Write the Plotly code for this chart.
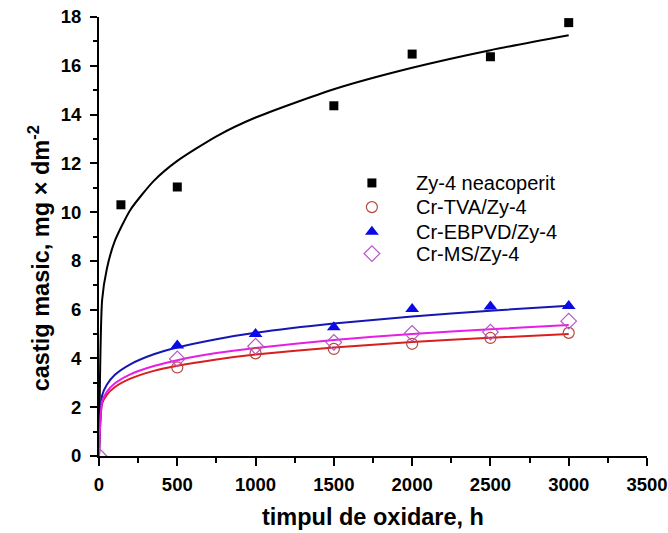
import plotly.graph_objects as go

# Measured points (time in h, mass gain in mg/dm^2)
t_zy4 = [140, 500, 1500, 2000, 2500, 3000]
m_zy4 = [10.3, 11.03, 14.36, 16.48, 16.37, 17.77]

t_coat = [500, 1000, 1500, 2000, 2500, 3000]
m_tva = [3.63, 4.21, 4.39, 4.60, 4.84, 5.05]
m_ebpvd = [4.53, 5.00, 5.28, 6.03, 6.13, 6.15]
t_ms = [0, 500, 1000, 1500, 2000, 2500, 3000]
m_ms = [0.0, 3.98, 4.50, 4.66, 5.03, 5.08, 5.53]

# Fit curves
fit_t = [0, 20, 50, 100, 200, 350, 500, 750, 1000, 1500, 2000, 2500, 3000]
fit_zy4 = [0.0, 6.4, 7.67, 8.80, 10.09, 11.28, 12.10, 13.11, 13.88, 15.04, 15.92, 16.64, 17.25]
fit_tva = [0.0, 2.15, 2.51, 2.82, 3.17, 3.49, 3.70, 3.96, 4.16, 4.45, 4.67, 4.85, 5.00]
fit_ebpvd = [0.0, 2.48, 2.92, 3.32, 3.76, 4.17, 4.45, 4.79, 5.05, 5.43, 5.72, 5.96, 6.16]
fit_ms = [0.0, 2.24, 2.63, 2.97, 3.35, 3.69, 3.93, 4.22, 4.43, 4.76, 5.00, 5.20, 5.37]

names = ["Zy-4 neacoperit", "Cr-TVA/Zy-4", "Cr-EBPVD/Zy-4", "Cr-MS/Zy-4"]
x_title = "timpul de oxidare, h"
y_title = "castig masic, mg × dm<sup>-2</sup>"

FONT = "Liberation Sans, Arial"

fig = go.Figure()

line_cfg = [
    (fit_zy4, "#000000"),
    (fit_tva, "#d81e1e"),
    (fit_ebpvd, "#1616b4"),
    (fit_ms, "#e61ee6"),
]
for ys, col in line_cfg:
    fig.add_trace(go.Scatter(x=fit_t, y=ys, mode="lines",
                             line=dict(color=col, width=2, shape="spline", smoothing=0.6),
                             showlegend=False, hoverinfo="skip"))

markers = [
    dict(symbol="square", size=9, color="#000000"),
    dict(symbol="circle-open", size=11, color="#b8453c", line=dict(width=1.2, color="#b8453c")),
    dict(symbol="triangle-up", size=12, color="#0a0ae6"),
    dict(symbol="diamond-open", size=12, color="#b557c8", line=dict(width=1.2, color="#b557c8")),
]
series = [(t_zy4, m_zy4), (t_coat, m_tva), (t_coat, m_ebpvd), (t_ms, m_ms)]
for (xs, ys), mk, nm in zip(series, markers, names):
    fig.add_trace(go.Scatter(x=xs, y=ys, mode="markers", name=nm, marker=mk,
                             showlegend=False))

# Legend drawn on an overlay axis (paper-like 0..1 coordinates)
leg_x_marker = 0.498
leg_x_text = 0.575
leg_rows = [0.622, 0.567, 0.511, 0.461]
for mk, nm, ly in zip(markers, names, leg_rows):
    fig.add_trace(go.Scatter(x=[leg_x_marker], y=[ly], mode="markers", marker=mk,
                             xaxis="x2", yaxis="y2", showlegend=False, hoverinfo="skip"))

tickfont = dict(family=FONT, size=18.5, color="#000000", weight="bold")

annotations = [
    dict(text="<b>" + x_title + "</b>", xref="paper", yref="paper",
         x=0.5, y=-0.14, xanchor="center", yanchor="middle", showarrow=False,
         font=dict(family=FONT, size=23.5, color="#000000")),
    dict(text="<b>" + y_title + "</b>", xref="paper", yref="paper",
         x=-0.108, y=0.45, xanchor="center", yanchor="middle", showarrow=False,
         textangle=-90,
         font=dict(family=FONT, size=23.5, color="#000000")),
]
for nm, ly in zip(names, leg_rows):
    annotations.append(dict(text=nm, xref="paper", yref="paper", x=leg_x_text, y=ly,
                            xanchor="left", yanchor="middle", showarrow=False,
                            font=dict(family=FONT, size=20, color="#000000")))

fig.update_layout(
    width=668, height=533,
    margin=dict(l=99, r=21, t=17, b=77),
    paper_bgcolor="white", plot_bgcolor="white",
    font=dict(family=FONT, color="#000000"),
    showlegend=False,
    xaxis=dict(
        range=[0, 3500], dtick=500, tick0=0, automargin=False,
        showgrid=False, zeroline=False,
        showline=True, linecolor="#000000", linewidth=2,
        ticks="outside", ticklen=8, tickwidth=2, tickcolor="#000000",
        tickfont=tickfont, ticklabelstandoff=3,
        minor=dict(dtick=250, ticks="outside", ticklen=5, tickwidth=2, tickcolor="#000000"),
    ),
    yaxis=dict(
        range=[0, 18], dtick=2, tick0=0, automargin=False,
        showgrid=False, zeroline=False,
        showline=True, linecolor="#000000", linewidth=2,
        ticks="outside", ticklen=7, tickwidth=2, tickcolor="#000000",
        tickfont=tickfont, ticklabelstandoff=5,
        minor=dict(dtick=1, ticks="outside", ticklen=4, tickwidth=2, tickcolor="#000000"),
    ),
    xaxis2=dict(range=[0, 1], overlaying="x", visible=False, fixedrange=True,
                automargin=False),
    yaxis2=dict(range=[0, 1], overlaying="y", visible=False, fixedrange=True,
                automargin=False),
    annotations=annotations,
)

fig.write_html("out.html")
